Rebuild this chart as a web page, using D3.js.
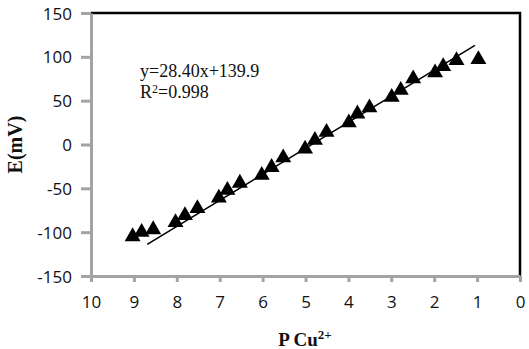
<!DOCTYPE html>
<html>
  <head>
    <meta charset="utf-8">
    <title>E vs P Cu2+</title>
    <script src="https://cdn.jsdelivr.net/npm/d3@7"></script>
    <style>
      body { margin: 0; background: #fff; }
      #chart { display: block; }
      .tick text { font-family: "Open Sans", sans-serif; font-size: 17px; fill: #111; }
      .serif { font-family: "Liberation Serif", "Times New Roman", serif; fill: #111; }
    </style>
  </head>

  <body>
    <svg id="chart" width="529" height="349"></svg>

    <script>
      // data
      pCu = [9.03, 8.82, 8.55, 8.03, 7.81, 7.52, 7.02, 6.82, 6.53, 6.02, 5.79, 5.52, 5.01,
             4.78, 4.51, 3.99, 3.79, 3.51, 2.99, 2.78, 2.49, 1.98, 1.79, 1.48, 0.97];
      emf = [-105, -100, -97, -89, -81, -73, -61, -52, -44, -35, -26, -15, -5,
             5, 14, 25, 35, 42, 54, 62, 75, 82, 89, 96, 97];
      trendX = [8.69, 1.05];
      trendY = [-114, 113];
      xTicks = [10, 9, 8, 7, 6, 5, 4, 3, 2, 1, 0];
      yTicks = [-150, -100, -50, 0, 50, 100, 150];

      chart = d3.select("#chart");
      margin = { top: 13, right: 9, bottom: 73, left: 91 };
      width = 529;
      height = 349;

      x = d3.scaleLinear().domain([10, 0]).range([margin.left, width - margin.right]);
      y = d3.scaleLinear().domain([-150, 150]).range([height - margin.bottom, margin.top]);

      // black frame on top and right
      chart.append("path")
        .attr("d", "M" + x(10) + "," + y(150) + "H" + x(0) + "V" + y(-150))
        .attr("fill", "none")
        .attr("stroke", "#000")
        .attr("stroke-width", 2.5);

      // plain hyphen for negatives, like the original
      plain = function(d) { return String(d); };

      xAxis = d3.axisBottom(x).tickValues(xTicks).tickFormat(plain)
        .tickSizeInner(6).tickSizeOuter(0).tickPadding(14);
      yAxis = d3.axisLeft(y).tickValues(yTicks).tickFormat(plain)
        .tickSizeInner(10).tickSizeOuter(0).tickPadding(9);

      xAxisGroup = chart.append("g")
        .attr("transform", "translate(0," + y(-150) + ")")
        .call(xAxis);
      yAxisGroup = chart.append("g")
        .attr("transform", "translate(" + x(10) + ",0)")
        .call(yAxis);

      chart.selectAll(".domain").attr("stroke", "#a3a3a3").attr("stroke-width", 3);
      chart.selectAll(".tick line").attr("stroke", "#a3a3a3").attr("stroke-width", 3);
      yAxisGroup.selectAll(".tick text").attr("dy", "0.36em");

      // trend line
      chart.append("line")
        .attr("x1", x(trendX[0])).attr("y1", y(trendY[0]))
        .attr("x2", x(trendX[1])).attr("y2", y(trendY[1]))
        .attr("stroke", "#000")
        .attr("stroke-width", 1.6);

      // points
      triangle = d3.symbol().type(d3.symbolTriangle).size(110);
      chart.append("g")
        .selectAll("path")
          .data(pCu)
        .enter().append("path")
          .attr("d", triangle)
          .attr("fill", "#000")
          .attr("transform", function(d, i) { return "translate(" + x(d) + "," + y(emf[i]) + ")"; });

      // equation
      chart.append("text")
        .attr("class", "serif")
        .attr("x", 140)
        .attr("y", 77)
        .style("font-size", "18px")
        .text("y=28.40x+139.9");
      r2 = chart.append("text")
        .attr("class", "serif")
        .attr("x", 140)
        .attr("y", 97.5)
        .style("font-size", "18px");
      r2.append("tspan").text("R");
      r2.append("tspan").attr("dy", -5).style("font-size", "12px").text("2");
      r2.append("tspan").attr("dy", 5).text("=0.998");

      // axis titles
      chart.append("text")
        .attr("class", "serif")
        .attr("transform", "translate(22," + y(0) + ") rotate(-90)")
        .attr("text-anchor", "middle")
        .style("font-size", "20px")
        .style("font-weight", "bold")
        .text("E(mV)");

      xt = chart.append("text")
        .attr("class", "serif")
        .attr("x", 305)
        .attr("y", 346)
        .attr("text-anchor", "middle")
        .style("font-size", "19px")
        .style("font-weight", "bold");
      xt.append("tspan").text("P Cu");
      xt.append("tspan").attr("dy", -7).style("font-size", "13px").text("2+");
    </script>
  </body>
</html>
